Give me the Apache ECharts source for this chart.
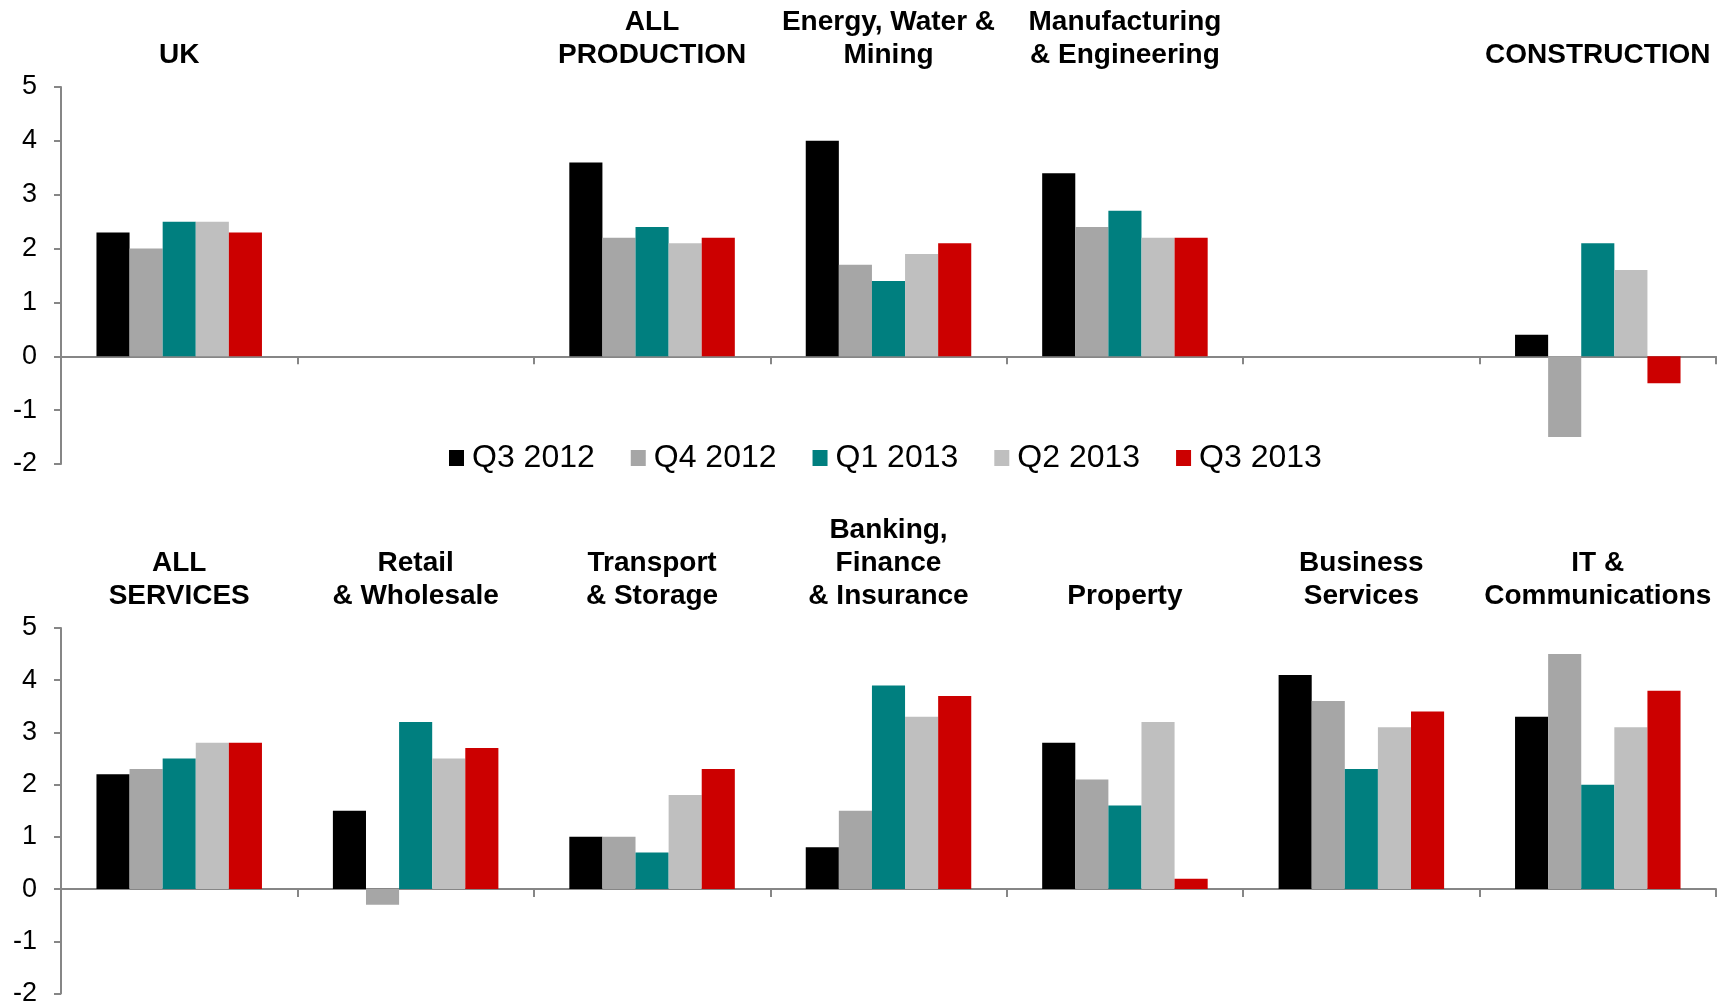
<!DOCTYPE html>
<html>
<head>
<meta charset="utf-8">
<script src="https://cdn.jsdelivr.net/npm/echarts@6/dist/echarts.min.js"></script>
<style>
html,body{margin:0;padding:0;background:#fff;}
#chart{width:1730px;height:1007px;}
</style>
</head>
<body>
<div id="chart"></div>
<script>
const seriesNames = ['Q3 2012', 'Q4 2012', 'Q1 2013', 'Q2 2013', 'Q3 2013'];
const seriesColors = ['#000000', '#A6A6A6', '#007F7F', '#BFBFBF', '#CC0000'];

const topCategories = ['UK', '', 'ALL\nPRODUCTION', 'Energy, Water &\nMining', 'Manufacturing\n& Engineering', '', 'CONSTRUCTION'];
const topQ3_2012 = [2.3, null, 3.6, 4.0, 3.4, null, 0.4];
const topQ4_2012 = [2.0, null, 2.2, 1.7, 2.4, null, -1.5];
const topQ1_2013 = [2.5, null, 2.4, 1.4, 2.7, null, 2.1];
const topQ2_2013 = [2.5, null, 2.1, 1.9, 2.2, null, 1.6];
const topQ3_2013 = [2.3, null, 2.2, 2.1, 2.2, null, -0.5];

const bottomCategories = ['ALL\nSERVICES', 'Retail\n& Wholesale', 'Transport\n& Storage', 'Banking,\nFinance\n& Insurance', 'Property', 'Business\nServices', 'IT &\nCommunications'];
const botQ3_2012 = [2.2, 1.5, 1.0, 0.8, 2.8, 4.1, 3.3];
const botQ4_2012 = [2.3, -0.3, 1.0, 1.5, 2.1, 3.6, 4.5];
const botQ1_2013 = [2.5, 3.2, 0.7, 3.9, 1.6, 2.3, 2.0];
const botQ2_2013 = [2.8, 2.5, 1.8, 3.3, 3.2, 3.1, 3.1];
const botQ3_2013 = [2.8, 2.7, 2.3, 3.7, 0.2, 3.4, 3.8];

const topSeriesData = [topQ3_2012, topQ4_2012, topQ1_2013, topQ2_2013, topQ3_2013];
const botSeriesData = [botQ3_2012, botQ4_2012, botQ1_2013, botQ2_2013, botQ3_2013];

const FONT = '"Liberation Sans", Arial, sans-serif';
const AXIS_COLOR = '#868686';

const chart = echarts.init(document.getElementById('chart'));

function valueAxis(gridIndex) {
  return {
    type: 'value', gridIndex: gridIndex, min: -2, max: 5, interval: 1,
    axisLine: { show: true, lineStyle: { color: AXIS_COLOR, width: 2 } },
    axisTick: { show: true, length: 7, lineStyle: { color: AXIS_COLOR, width: 2 } },
    splitLine: { show: false },
    axisLabel: { color: '#000', fontSize: 27, fontFamily: FONT, margin: 24 }
  };
}
function baseAxis(gridIndex, cats) {
  return {
    type: 'category', gridIndex: gridIndex, data: cats, position: 'bottom',
    boundaryGap: true,
    axisLine: { show: true, onZero: true, lineStyle: { color: AXIS_COLOR, width: 2 } },
    axisTick: { show: true, length: 8, alignWithLabel: false, lineStyle: { color: AXIS_COLOR, width: 2 } },
    axisLabel: { show: false }
  };
}
function titleAxis(gridIndex, cats, margin) {
  return {
    type: 'category', gridIndex: gridIndex, data: cats, position: 'top',
    axisLine: { show: false, onZero: false },
    axisTick: { show: false },
    axisLabel: {
      show: true, interval: 0, color: '#000', fontSize: 28, fontWeight: 'bold',
      fontFamily: FONT, lineHeight: 33, margin: margin, align: 'center'
    }
  };
}

const series = [];
seriesNames.forEach(function (name, i) {
  series.push({
    name: name, type: 'bar', xAxisIndex: 0, yAxisIndex: 0,
    data: topSeriesData[i], itemStyle: { color: seriesColors[i] },
    barGap: '0%', barCategoryGap: '30%', animation: false
  });
  series.push({
    name: name, type: 'bar', xAxisIndex: 2, yAxisIndex: 1,
    data: botSeriesData[i], itemStyle: { color: seriesColors[i] },
    barGap: '0%', barCategoryGap: '30%', animation: false
  });
});

chart.setOption({
  animation: false,
  backgroundColor: '#fff',
  textStyle: { fontFamily: FONT },
  grid: [
    { left: 61, right: 14, top: 87, height: 377 },
    { left: 61, right: 14, top: 628, height: 368 }
  ],
  legend: {
    data: seriesNames, left: 444, top: 437, icon: 'rect',
    itemWidth: 15, itemHeight: 16, itemGap: 36,
    textStyle: { fontSize: 32, color: '#000', fontFamily: FONT, padding: [0, 0, 0, 3] }
  },
  xAxis: [
    baseAxis(0, topCategories),
    titleAxis(0, topCategories, 15),
    baseAxis(1, bottomCategories),
    titleAxis(1, bottomCategories, 15)
  ],
  yAxis: [valueAxis(0), valueAxis(1)],
  series: series
});
</script>
</body>
</html>
